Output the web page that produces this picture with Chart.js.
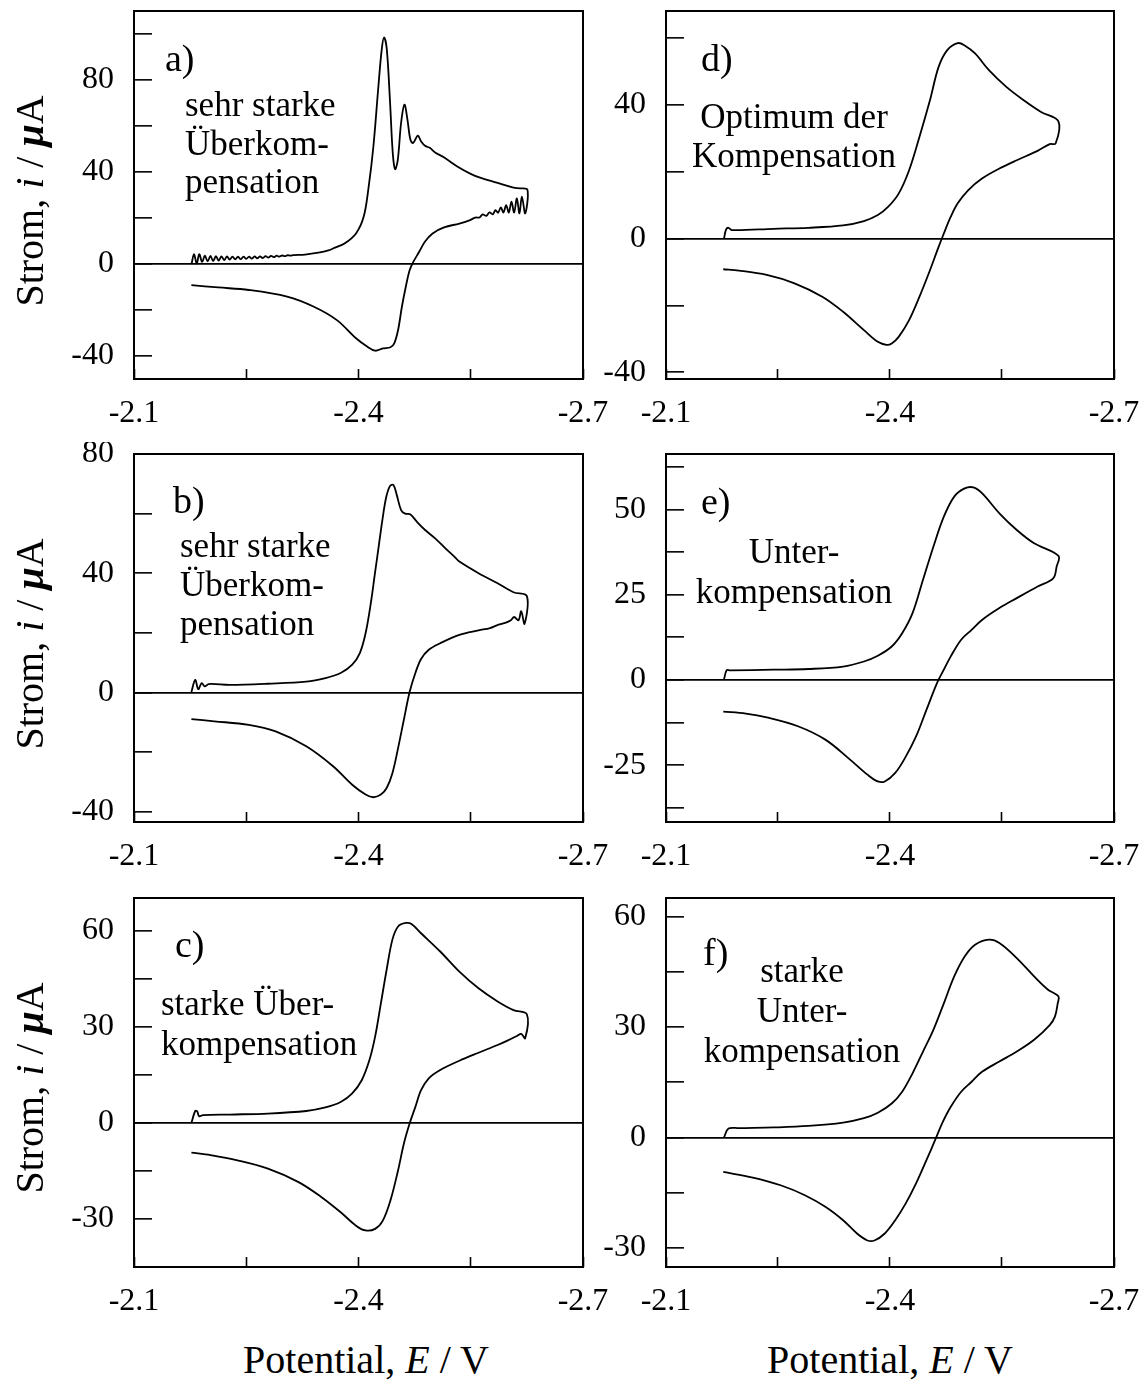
<!DOCTYPE html>
<html lang="de">
<head>
<meta charset="UTF-8">
<title>Cyclovoltammogramme</title>
<style>
  body { margin: 0; background: #fff; }
  #page { position: relative; width: 1145px; height: 1385px; overflow: hidden; background: #fff;
          font-family: "Liberation Serif", "DejaVu Serif", serif; color: #000; }
  canvas { position: absolute; }
  .note { position: absolute; font-size: 35px; line-height: 39px; white-space: nowrap; }
  .note.mid { transform: translateX(-50%); text-align: center; }
  .tag { position: absolute; font-size: 38px; line-height: 38px; white-space: nowrap; }
  .xtitle { position: absolute; font-size: 40px; line-height: 40px; white-space: nowrap; transform: translateX(-50%); }
  .ytitle { position: absolute; width: 300px; height: 40px; font-size: 40px; line-height: 40px; text-align: center;
            white-space: nowrap; transform: translate(-50%, -50%) rotate(-90deg); }
</style>
</head>
<body>
<div id="page">
  <canvas id="ca"></canvas><canvas id="cb"></canvas><canvas id="cc"></canvas>
  <canvas id="cd"></canvas><canvas id="ce"></canvas><canvas id="cf"></canvas>

  <div class="tag" style="left:165px; top:39px;">a)</div>
  <div class="note" style="left:185px; top:86px; line-height:38.5px;">sehr starke<br>Überkom-<br>pensation</div>
  <div class="tag" style="left:173px; top:481px;">b)</div>
  <div class="note" style="left:180px; top:526px;">sehr starke<br>Überkom-<br>pensation</div>
  <div class="tag" style="left:175px; top:925px;">c)</div>
  <div class="note" style="left:161px; top:984px; line-height:40px;">starke Über-<br>kompensation</div>
  <div class="tag" style="left:701px; top:39px;">d)</div>
  <div class="note mid" style="left:794px; top:97px;">Optimum der<br>Kompensation</div>
  <div class="tag" style="left:701px; top:482px;">e)</div>
  <div class="note mid" style="left:794px; top:532px; line-height:40px;">Unter-<br>kompensation</div>
  <div class="tag" style="left:703px; top:933px;">f)</div>
  <div class="note mid" style="left:802px; top:951px; line-height:40px;">starke<br>Unter-<br>kompensation</div>

  <div class="ytitle" style="left:30px; top:201px;">Strom, <i>i</i> / <b><i>μ</i></b>A</div>
  <div class="ytitle" style="left:30px; top:644px;">Strom, <i>i</i> / <b><i>μ</i></b>A</div>
  <div class="ytitle" style="left:30px; top:1088px;">Strom, <i>i</i> / <b><i>μ</i></b>A</div>
  <div class="xtitle" style="left:366px; top:1340px;">Potential, <i>E</i> / V</div>
  <div class="xtitle" style="left:890px; top:1340px;">Potential, <i>E</i> / V</div>
</div>

<script src="https://cdn.jsdelivr.net/npm/chart.js"></script>
<script>
// potential axis, shared by all panels
const xTicks = [-2.1, -2.25, -2.4, -2.55, -2.7];
const xLabels = [-2.1, -2.4, -2.7];

// a) sehr starke Ueberkompensation
const aE = [-2.1769, -2.1802, -2.1838, -2.1872, -2.1910, -2.1947, -2.1984, -2.2021, -2.2058, -2.2095,
  -2.2131, -2.2168, -2.2205, -2.2242, -2.2279, -2.2316, -2.2353, -2.2390, -2.2426, -2.2463,
  -2.2500, -2.2537, -2.2574, -2.2611, -2.2647, -2.2684, -2.2721, -2.2758, -2.2795, -2.2832,
  -2.2869, -2.2906, -2.2942, -2.2979, -2.3016, -2.3053, -2.3090, -2.3130, -2.3286, -2.3465,
  -2.3598, -2.3687, -2.3813, -2.3967, -2.4069, -2.4133, -2.4199, -2.4266, -2.4311, -2.4342,
  -2.4378, -2.4422, -2.4458, -2.4489, -2.4525, -2.4569, -2.4614, -2.4654, -2.4694, -2.4730,
  -2.4793, -2.4837, -2.4890, -2.4957, -2.5024, -2.5135, -2.5348, -2.5492, -2.5604, -2.5859,
  -2.6071, -2.6160, -2.6258,
  -2.6227, -2.6183, -2.6151, -2.6116, -2.6080, -2.6044, -2.6009, -2.5973, -2.5938, -2.5902,
  -2.5866, -2.5830, -2.5795, -2.5750, -2.5706, -2.5661, -2.5616, -2.5559, -2.5492, -2.5348,
  -2.5143, -2.4990, -2.4887, -2.4811, -2.4734, -2.4683, -2.4632, -2.4580, -2.4529, -2.4478,
  -2.4427, -2.4325, -2.4222, -2.4120, -2.3967, -2.3711, -2.3404, -2.3046, -2.2535, -2.2125, -2.1767];
const aI = [0.0, 4.3, 0.2, 4.3, 0.9, 3.6, 1.1, 3.5, 1.3, 3.4,
  1.5, 3.3, 1.7, 3.3, 1.9, 3.2, 2.0, 3.2, 2.1, 3.2,
  2.2, 3.2, 2.3, 3.3, 2.5, 3.3, 2.6, 3.4, 2.8, 3.5,
  3.0, 3.6, 3.2, 3.7, 3.4, 3.8, 3.6, 3.9, 4.1, 4.9,
  5.9, 7.1, 8.9, 13.3, 20.5, 32.9, 51.1, 77.3, 93.4, 98.5,
  93.4, 70.1, 48.2, 41.2, 45.3, 61.3, 69.3, 62.8, 54.0, 52.6,
  55.8, 53.3, 51.4, 50.4, 48.5, 46.5, 41.8, 39.3, 37.8, 35.3,
  33.2, 32.9, 32.2,
  22.0, 29.3, 22.0, 28.5, 22.4, 27.1, 22.4, 25.6, 22.4, 24.6,
  22.3, 23.4, 21.6, 22.4, 20.9, 21.6, 20.2, 20.2, 19.1, 17.6,
  15.9, 13.3, 9.7, 5.3, 1.0, -2.7, -9.9, -18.6, -28.7, -34.5,
  -36.2, -36.7, -37.7, -36.0, -32.3, -24.4, -18.6, -14.2, -11.3, -10.2, -9.2];
const aYTicks = [-40, -20, 0, 20, 40, 60, 80, 100];
const aYLabels = [-40, 0, 40, 80];

// b) sehr starke Ueberkompensation
const bE = [-2.1767, -2.1818, -2.1859, -2.1905, -2.1946, -2.1997, -2.2279, -2.2790, -2.3302, -2.3558,
  -2.3762, -2.3916, -2.4018, -2.4096, -2.4171, -2.4220, -2.4270, -2.4320, -2.4370, -2.4422,
  -2.4467, -2.4512, -2.4569, -2.4623, -2.4690, -2.4779, -2.4890, -2.5024, -2.5158, -2.5291,
  -2.5348, -2.5604, -2.5859, -2.6071, -2.6250,
  -2.6218, -2.6174, -2.6138, -2.6080, -2.6036, -2.5960, -2.5848, -2.5759, -2.5604, -2.5348,
  -2.5092, -2.4939, -2.4836, -2.4760, -2.4683, -2.4606, -2.4529, -2.4453, -2.4376, -2.4299,
  -2.4197, -2.4095, -2.3916, -2.3660, -2.3302, -2.2893, -2.2535, -2.2074, -2.1767];
const bI = [0.1, 4.2, 1.1, 3.1, 2.0, 2.8, 2.5, 2.9, 3.6, 4.8,
  6.5, 9.3, 13.2, 20.0, 31.0, 40.0, 49.0, 58.0, 65.5, 69.3,
  69.6, 66.2, 61.2, 60.0, 59.8, 57.3, 54.5, 51.7, 48.4, 45.3,
  43.9, 40.0, 36.6, 33.6, 32.3,
  23.0, 27.2, 24.2, 25.3, 24.2, 23.3, 22.5, 21.6, 20.8, 19.3,
  16.5, 14.3, 11.2, 6.5, 0.1, -9.2, -18.7, -27.1, -32.1, -34.3,
  -35.2, -34.3, -31.0, -24.8, -18.1, -13.1, -10.9, -9.7, -9.0];
const bYTicks = [-40, -20, 0, 20, 40, 60, 80];
const bYLabels = [-40, 0, 40, 80];

// c) starke Ueberkompensation
const cE = [-2.1767, -2.1818, -2.1844, -2.1870, -2.1921, -2.2279, -2.2790, -2.3302, -2.3558, -2.3762,
  -2.3916, -2.4043, -2.4146, -2.4222, -2.4299, -2.4376, -2.4453, -2.4529, -2.4632, -2.4708,
  -2.4836, -2.5092, -2.5348, -2.5604, -2.5859, -2.6071, -2.6250,
  -2.6227, -2.6174, -2.6116, -2.5983, -2.5859, -2.5604, -2.5348, -2.5092, -2.4939, -2.4836,
  -2.4760, -2.4683, -2.4606, -2.4529, -2.4427, -2.4325, -2.4222, -2.4095, -2.3967, -2.3762,
  -2.3506, -2.3199, -2.2790, -2.2381, -2.2023, -2.1767];
const cI = [0.0, 3.7, 3.6, 2.1, 2.4, 2.6, 2.9, 3.7, 4.8, 6.5,
  9.2, 13.3, 19.6, 26.9, 37.3, 47.8, 57.2, 61.3, 62.4, 62.1,
  59.2, 53.5, 47.2, 42.0, 37.9, 35.2, 33.9,
  26.4, 27.8, 27.1, 25.6, 24.3, 21.9, 19.4, 16.5, 13.9, 10.2,
  5.0, -0.2, -6.5, -14.8, -24.2, -30.5, -33.1, -33.6, -32.1, -27.9,
  -23.2, -18.5, -14.3, -11.7, -10.1, -9.3];
const cYTicks = [-30, -15, 0, 15, 30, 45, 60];
const cYLabels = [-30, 0, 30, 60];

// d) Optimum der Kompensation
const dE = [-2.1777, -2.1805, -2.1837, -2.1884, -2.2442, -2.2907, -2.3372, -2.3651, -2.3837, -2.3977,
  -2.4116, -2.4256, -2.4395, -2.4535, -2.4651, -2.4767, -2.4907, -2.5000, -2.5139, -2.5325,
  -2.5558, -2.5791, -2.6023, -2.6256,
  -2.6218, -2.6139, -2.5977, -2.5698, -2.5465, -2.5232, -2.5046, -2.4907, -2.4814, -2.4721,
  -2.4651, -2.4535, -2.4395, -2.4256, -2.4116, -2.4023, -2.3953, -2.3837, -2.3651, -2.3372,
  -2.3093, -2.2721, -2.2349, -2.1977, -2.1767];
const dI = [0.0, 2.7, 3.2, 2.5, 2.9, 3.2, 3.9, 5.2, 7.0, 9.5,
  13.4, 20.4, 30.4, 41.3, 51.3, 56.3, 58.4, 57.7, 55.3, 50.3,
  45.3, 41.3, 37.8, 35.0,
  28.4, 28.2, 26.2, 23.4, 20.9, 17.9, 14.4, 10.5, 6.5, 1.5,
  -2.5, -9.5, -17.4, -24.4, -29.4, -31.4, -31.8, -30.9, -27.4, -21.9,
  -17.4, -13.4, -10.9, -9.6, -9.2];
const dYTicks = [-40, -20, 0, 20, 40, 60];
const dYLabels = [-40, 0, 40];

// e) Unterkompensation
const eE = [-2.1777, -2.1814, -2.1860, -2.2442, -2.2907, -2.3372, -2.3651, -2.3837, -2.4023, -2.4163,
  -2.4302, -2.4442, -2.4581, -2.4721, -2.4860, -2.5000, -2.5116, -2.5232, -2.5465, -2.5698,
  -2.5930, -2.6256,
  -2.6232, -2.6186, -2.5977, -2.5698, -2.5465, -2.5232, -2.5093, -2.4953, -2.4814, -2.4721,
  -2.4628, -2.4488, -2.4349, -2.4209, -2.4070, -2.3930, -2.3837, -2.3698, -2.3465, -2.3139,
  -2.2767, -2.2349, -2.2070, -2.1767];
const eI = [0.2, 2.9, 2.8, 3.0, 3.2, 3.9, 5.4, 7.1, 9.8, 13.7,
  19.6, 29.4, 39.1, 47.9, 53.8, 56.2, 56.5, 54.8, 48.9, 44.0,
  40.1, 36.4,
  33.3, 29.8, 27.4, 24.0, 21.1, 17.6, 14.7, 11.8, 6.9, 3.0,
  -1.0, -8.8, -16.6, -22.6, -27.3, -29.8, -29.8, -27.8, -23.4, -17.6,
  -13.6, -11.0, -9.9, -9.3];
const eYTicks = [-37.5, -25, -12.5, 0, 12.5, 25, 37.5, 50, 62.5];
const eYLabels = [-25, 0, 25, 50];

// f) starke Unterkompensation
const fE = [-2.1777, -2.1837, -2.1977, -2.2442, -2.2907, -2.3372, -2.3651, -2.3837, -2.4023, -2.4163,
  -2.4302, -2.4442, -2.4581, -2.4721, -2.4860, -2.5000, -2.5139, -2.5325, -2.5465, -2.5698,
  -2.5930, -2.6116, -2.6256,
  -2.6246, -2.6209, -2.6139, -2.5930, -2.5698, -2.5465, -2.5232, -2.5093, -2.4953, -2.4814,
  -2.4698, -2.4605, -2.4488, -2.4349, -2.4209, -2.4070, -2.3930, -2.3791, -2.3698, -2.3558,
  -2.3372, -2.3139, -2.2860, -2.2535, -2.2163, -2.1767];
const fI = [0.0, 2.4, 2.5, 2.7, 3.1, 4.0, 5.2, 6.7, 9.2, 12.4,
  17.4, 23.3, 29.2, 36.4, 43.7, 49.1, 52.3, 53.7, 52.8, 48.7,
  43.7, 40.1, 38.3,
  36.4, 32.8, 30.5, 26.5, 23.3, 20.6, 17.8, 15.1, 12.4, 8.3,
  3.8, -0.7, -6.2, -12.5, -18.0, -22.5, -26.1, -28.0, -28.0, -26.1,
  -22.5, -18.9, -15.7, -13.0, -10.9, -9.4];
const fYTicks = [-30, -15, 0, 15, 30, 45, 60];
const fYLabels = [-30, 0, 30, 60];

const tickFont = { family: 'Liberation Serif', size: 32 };

// box frame round the plot area
const framePlugin = {
  id: 'frame',
  afterDatasetsDraw(chart) {
    const { ctx, chartArea: a } = chart;
    ctx.save();
    ctx.strokeStyle = '#000';
    ctx.lineWidth = 2;
    ctx.strokeRect(a.left, a.top, a.right - a.left, a.bottom - a.top);
    ctx.restore();
  }
};

function makePanel(id, box, E, I, yMin, yMax, yTicks, yLabels) {
  const cv = document.getElementById(id);
  const w = 134 + box[2] + 30, h = 12 + box[3] + 62;
  cv.width = w; cv.height = h;
  cv.style.left = (box[0] - 134) + 'px';
  cv.style.top = (box[1] - 12) + 'px';
  cv.style.width = w + 'px'; cv.style.height = h + 'px';

  const pts = E.map((e, k) => ({ x: e, y: I[k] }));
  return new Chart(cv.getContext('2d'), {
    type: 'scatter',
    data: {
      datasets: [{
        data: pts,
        showLine: true,
        borderColor: '#000',
        borderWidth: 1.8,
        pointRadius: 0,
        tension: 0.35,
        fill: false
      }]
    },
    options: {
      responsive: false,
      animation: false,
      events: [],
      layout: { padding: { top: 12, right: 30, left: 0, bottom: 0 } },
      plugins: { legend: { display: false }, tooltip: { enabled: false } },
      scales: {
        x: {
          type: 'linear', min: -2.7, max: -2.1, reverse: true,
          afterBuildTicks: s => { s.ticks = xTicks.map(v => ({ value: v })); },
          afterFit: s => { s.height = 62; s.paddingLeft = 0; s.paddingRight = 0; },
          border: { display: false },
          grid: { drawOnChartArea: false, tickColor: '#000', tickLength: -10, tickWidth: 1.6 },
          ticks: {
            color: '#000', font: tickFont, padding: 25, maxRotation: 0, autoSkip: false,
            callback: v => xLabels.some(l => Math.abs(l - v) < 1e-6) ? v.toFixed(1) : ''
          }
        },
        y: {
          type: 'linear', min: yMin, max: yMax,
          afterBuildTicks: s => { s.ticks = yTicks.map(v => ({ value: v })); },
          afterFit: s => { s.width = 134; s.paddingTop = 0; s.paddingBottom = 0; },
          border: { display: false },
          grid: {
            drawOnChartArea: true,
            color: c => (c.tick && c.tick.value === 0) ? '#000' : 'rgba(0,0,0,0)',
            lineWidth: 1.7,
            tickColor: '#000', tickLength: -18, tickWidth: 1.6
          },
          ticks: {
            color: '#000', font: tickFont, padding: 38, autoSkip: false,
            callback: v => yLabels.includes(v) ? String(v) : ''
          }
        }
      }
    },
    plugins: [framePlugin]
  });
}

makePanel('ca', [134, 11, 449, 368], aE, aI, -50, 110, aYTicks, aYLabels);
makePanel('cb', [134, 454, 449, 368], bE, bI, -43.5, 80, bYTicks, bYLabels);
makePanel('cc', [134, 898, 449, 369], cE, cI, -45, 70.2, cYTicks, cYLabels);
makePanel('cd', [666, 11, 448, 368], dE, dI, -42, 68, dYTicks, dYLabels);
makePanel('ce', [666, 454, 448, 368], eE, eI, -41.7, 66.3, eYTicks, eYLabels);
makePanel('cf', [666, 898, 448, 369], fE, fI, -35.2, 65, fYTicks, fYLabels);
</script>
</body>
</html>
